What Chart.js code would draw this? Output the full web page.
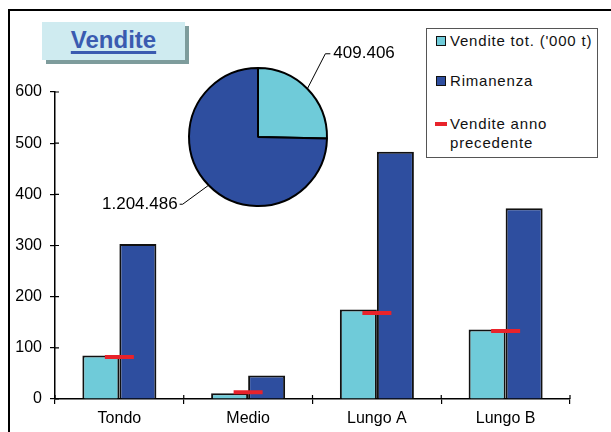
<!DOCTYPE html>
<html>
<head>
<meta charset="utf-8">
<script src="https://cdn.jsdelivr.net/npm/chart.js@4"></script>
<style>
  html, body { margin: 0; padding: 0; background: #fff; }
  body { width: 611px; height: 432px; overflow: hidden; position: relative; font-family: "Liberation Sans", Arial, sans-serif; }
  .frame { position: absolute; left: 8px; top: 9px; width: 640px; height: 460px; border: 2px solid #000; box-sizing: border-box; }
  #bars { position: absolute; left: 0; top: 0; }
  #pie { position: absolute; left: 100px; top: 30px; }
  .title-shadow { position: absolute; left: 46px; top: 26px; width: 143px; height: 38px; background: #7e9c9c; }
  .title { position: absolute; left: 42px; top: 22px; width: 143px; height: 38px; background: #cfebf0;
           text-align: center; font-weight: bold; font-size: 24px; line-height: 36px; color: #3a5bb0; }
  .title span { text-decoration: underline; text-decoration-thickness: 3px; text-underline-offset: 3px; }
  .legend { position: absolute; left: 426px; top: 28px; width: 172px; height: 130px; border: 1px solid #555;
            box-sizing: border-box; background: #fff; font-size: 15px; letter-spacing: 0.8px; color: #111; }
  .item { position: absolute; left: 0; }
  .sw { position: absolute; left: 9px; top: 5px; width: 8px; height: 8px; border: 1.5px solid #111; }
  .ln { position: absolute; left: 8px; top: 8px; width: 12px; height: 4px; background: #e8232b; }
  .txt { position: absolute; left: 23px; top: 0; white-space: nowrap; line-height: 19px; }
</style>
</head>
<body>
<div class="frame"></div>
<div class="title-shadow"></div>
<div class="title"><span>Vendite</span></div>
<canvas id="bars" width="611" height="432"></canvas>
<canvas id="pie" width="320" height="190"></canvas>
<div class="legend">
  <div class="item" style="top:2px"><div class="sw" style="background:#6fcbd9"></div><div class="txt">Vendite tot. ('000 t)</div></div>
  <div class="item" style="top:42px"><div class="sw" style="background:#2e4e9f"></div><div class="txt">Rimanenza</div></div>
  <div class="item" style="top:85px"><div class="ln"></div><div class="txt">Vendite anno<br>precedente</div></div>
</div>
<script>
const categories = ["Tondo", "Medio", "Lungo A", "Lungo B"];
const venditeTot = [85, 11, 175, 136];
const rimanenza = [303, 46, 483, 373];
const venditeAnnoPrec = [82, 13, 168, 133];
const yTicks = [0, 100, 200, 300, 400, 500, 600];

const pieLabels = ["Vendite tot.", "Rimanenza"];
const pieValues = [409.406, 1204.486];
const pieText = ["409.406", "1.204.486"];

const CYAN = "#6fcbd9";
const BLUE = "#2e4e9f";
const RED = "#e8232b";

// small tick marks that cross the axis lines, like the original
const crossTicks = {
  id: "crossTicks",
  afterDraw(chart) {
    const ctx = chart.ctx;
    const a = chart.chartArea;
    const y = chart.scales.y;
    ctx.save();
    ctx.strokeStyle = "#000";
    ctx.lineWidth = 1.2;
    ctx.beginPath();
    y.ticks.forEach((t, i) => {
      const py = y.getPixelForTick(i);
      ctx.moveTo(a.left, py);
      ctx.lineTo(a.left + 4, py);
    });
    const n = categories.length;
    for (let i = 0; i <= n; i++) {
      const px = a.left + i * (a.right - a.left) / n;
      ctx.moveTo(px, a.bottom);
      ctx.lineTo(px, a.bottom - 4);
    }
    ctx.stroke();
    ctx.restore();
  }
};

new Chart(document.getElementById("bars"), {
  data: {
    labels: categories,
    datasets: [
      {
        type: "line",
        label: "Vendite anno precedente",
        data: venditeAnnoPrec,
        showLine: false,
        pointStyle: "line",
        pointRadius: 14.5,
        pointHoverRadius: 14.5,
        pointBorderWidth: 4,
        pointBorderColor: RED,
        order: 0
      },
      {
        type: "bar",
        label: "Vendite tot. ('000 t)",
        data: venditeTot,
        backgroundColor: CYAN,
        borderColor: "#111",
        borderWidth: 2,
        barPercentage: 1,
        categoryPercentage: 0.575,
        order: 1
      },
      {
        type: "bar",
        label: "Rimanenza",
        data: rimanenza,
        backgroundColor: BLUE,
        borderColor: "#111",
        borderWidth: 2,
        barPercentage: 1,
        categoryPercentage: 0.575,
        order: 1
      }
    ]
  },
  options: {
    responsive: false,
    animation: false,
    layout: { padding: { left: 0, right: 41, top: 92, bottom: 0 } },
    plugins: { legend: { display: false }, tooltip: { enabled: false } },
    scales: {
      x: {
        offset: true,
        grid: { display: true, drawOnChartArea: false, offset: true, color: "#000", lineWidth: 1.2, tickLength: 5 },
        border: { color: "#000", width: 1.5 },
        ticks: { color: "#000", font: { family: "Liberation Sans", size: 16 }, padding: 5 },
        afterFit(scale) { scale.height = 33; }
      },
      y: {
        min: 0,
        max: 600,
        afterBuildTicks(scale) { scale.ticks = yTicks.map(v => ({ value: v })); },
        grid: { display: true, drawOnChartArea: false, color: "#000", lineWidth: 1.2, tickLength: 5 },
        border: { color: "#000", width: 1.5 },
        ticks: { color: "#000", font: { family: "Liberation Sans", size: 16 }, padding: 8 },
        afterFit(scale) { scale.width = 55; }
      }
    }
  },
  plugins: [crossTicks]
});

// leader lines and value labels for the pie
const pieLabelsPlugin = {
  id: "pieLabels",
  afterDraw(chart) {
    const ctx = chart.ctx;
    const arcs = chart.getDatasetMeta(0).data;
    ctx.save();
    ctx.strokeStyle = "#000";
    ctx.lineWidth = 1;
    ctx.fillStyle = "#000";
    ctx.font = "17px 'Liberation Sans'";
    ctx.textBaseline = "middle";
    arcs.forEach((arc, i) => {
      const mid = (arc.startAngle + arc.endAngle) / 2;
      const sx = arc.x + Math.cos(mid) * arc.outerRadius;
      const sy = arc.y + Math.sin(mid) * arc.outerRadius;
      const right = Math.cos(mid) >= 0;
      let ex, ey;
      if (right) { ex = sx + 18; ey = sy - 35; } else { ex = sx - 26; ey = sy + 19; }
      const hx = right ? ex + 5 : ex - 3;
      ctx.beginPath();
      ctx.moveTo(sx, sy);
      ctx.lineTo(ex, ey);
      ctx.lineTo(hx, ey);
      ctx.stroke();
      ctx.textAlign = right ? "left" : "right";
      ctx.fillText(pieText[i], right ? hx + 3 : hx - 2, ey);
    });
    ctx.restore();
  }
};

new Chart(document.getElementById("pie"), {
  type: "pie",
  data: {
    labels: pieLabels,
    datasets: [{
      data: pieValues,
      backgroundColor: [CYAN, BLUE],
      borderColor: "#000",
      borderWidth: 2
    }]
  },
  options: {
    responsive: false,
    animation: false,
    layout: { padding: { left: 88, right: 92, top: 37, bottom: 13 } },
    plugins: { legend: { display: false }, tooltip: { enabled: false } }
  },
  plugins: [pieLabelsPlugin]
});
</script>
</body>
</html>
